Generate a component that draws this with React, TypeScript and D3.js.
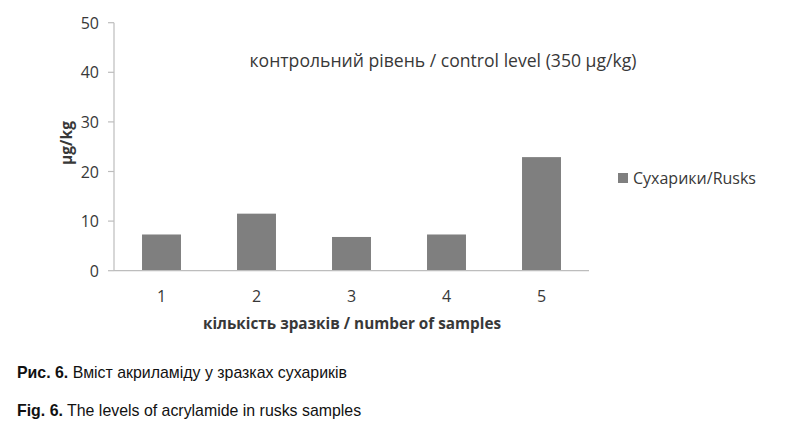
import React from "react";
import * as d3 from "d3";

const categories = ["1", "2", "3", "4", "5"];
const values = [7.3, 11.5, 6.8, 7.3, 22.9];
const yTicks = [0, 10, 20, 30, 40, 50];
const seriesName = "Сухарики/Rusks";
const annotation = "контрольний рівень / control level (350 µg/kg)";
const xTitle = "кількість зразків / number of samples";
const yTitle = "µg/kg";
const caption1Bold = "Рис. 6.";
const caption1 = " Вміст акриламіду у зразках сухариків";
const caption2Bold = "Fig. 6.";
const caption2 = " The levels of acrylamide in rusks samples";

const W = 800;
const H = 432;
const plot = { left: 114, right: 589, top: 22.7, bottom: 270.7 };
const chartFont = "Open Sans, Carlito, sans-serif";

export default function App() {
  const x = d3
    .scaleBand<string>()
    .domain(categories)
    .range([plot.left, plot.right])
    .paddingInner(0.59)
    .paddingOuter(0.295);
  const y = d3.scaleLinear().domain([0, 50]).range([plot.bottom, plot.top]);
  const axisColor = "#bdbdbd";
  const textColor = "#383838";
  const barColor = "#7f7f7f";

  return (
    <svg
      width={W}
      height={H}
      style={{ position: "absolute", left: 0, top: 0, background: "#fff" }}
    >
      <rect x={0} y={0} width={W} height={H} fill="#fff" />
      {/* y axis */}
      <line x1={plot.left} x2={plot.left} y1={plot.top} y2={plot.bottom} stroke={axisColor} strokeWidth={1.2} />
      {yTicks.map((t) => (
        <g key={t}>
          <line x1={plot.left - 6} x2={plot.left} y1={y(t)} y2={y(t)} stroke={axisColor} strokeWidth={1.2} />
          <text
            x={plot.left - 15}
            y={y(t)}
            textAnchor="end"
            dominantBaseline="central"
            fontFamily={chartFont}
            fontSize={16}
            fill={textColor}
          >
            {t}
          </text>
        </g>
      ))}
      {/* bars */}
      {categories.map((c, i) => (
        <rect
          key={c}
          x={x(c)}
          y={y(values[i])}
          width={x.bandwidth()}
          height={y(0) - y(values[i])}
          fill={barColor}
        />
      ))}
      {/* x axis */}
      <line x1={plot.left} x2={plot.right} y1={plot.bottom} y2={plot.bottom} stroke={axisColor} strokeWidth={1.2} />
      {categories.map((c) => (
        <text
          key={c}
          x={(x(c) as number) + x.bandwidth() / 2}
          y={296}
          textAnchor="middle"
          dominantBaseline="central"
          fontFamily={chartFont}
          fontSize={16}
          fill={textColor}
        >
          {c}
        </text>
      ))}
      <text
        x={352}
        y={323}
        textAnchor="middle"
        dominantBaseline="central"
        fontFamily={chartFont}
        fontSize={15.3}
        fontWeight="bold"
        fill={textColor}
      >
        {xTitle}
      </text>
      <text
        transform={`translate(66,143) rotate(-90)`}
        textAnchor="middle"
        dominantBaseline="central"
        fontFamily={chartFont}
        fontSize={15.5}
        fontWeight="bold"
        fill={textColor}
      >
        {yTitle}
      </text>
      <text
        x={443}
        y={60}
        textAnchor="middle"
        dominantBaseline="central"
        fontFamily={chartFont}
        fontSize={17.6}
        fill={textColor}
      >
        {annotation}
      </text>
      {/* legend */}
      <rect x={618} y={173} width={10} height={10} fill={barColor} />
      <text x={633} y={178} dominantBaseline="central" fontFamily={chartFont} fontSize={16} fill={textColor}>
        {seriesName}
      </text>
      {/* caption */}
      <text x={17} y={372} dominantBaseline="central" fontFamily="Liberation Sans, Arial, sans-serif" fontSize={15.9} fill="#111">
        <tspan fontWeight="bold">{caption1Bold}</tspan>
        <tspan>{caption1}</tspan>
      </text>
      <text x={17} y={410} dominantBaseline="central" fontFamily="Liberation Sans, Arial, sans-serif" fontSize={15.9} fill="#111">
        <tspan fontWeight="bold">{caption2Bold}</tspan>
        <tspan>{caption2}</tspan>
      </text>
    </svg>
  );
}
